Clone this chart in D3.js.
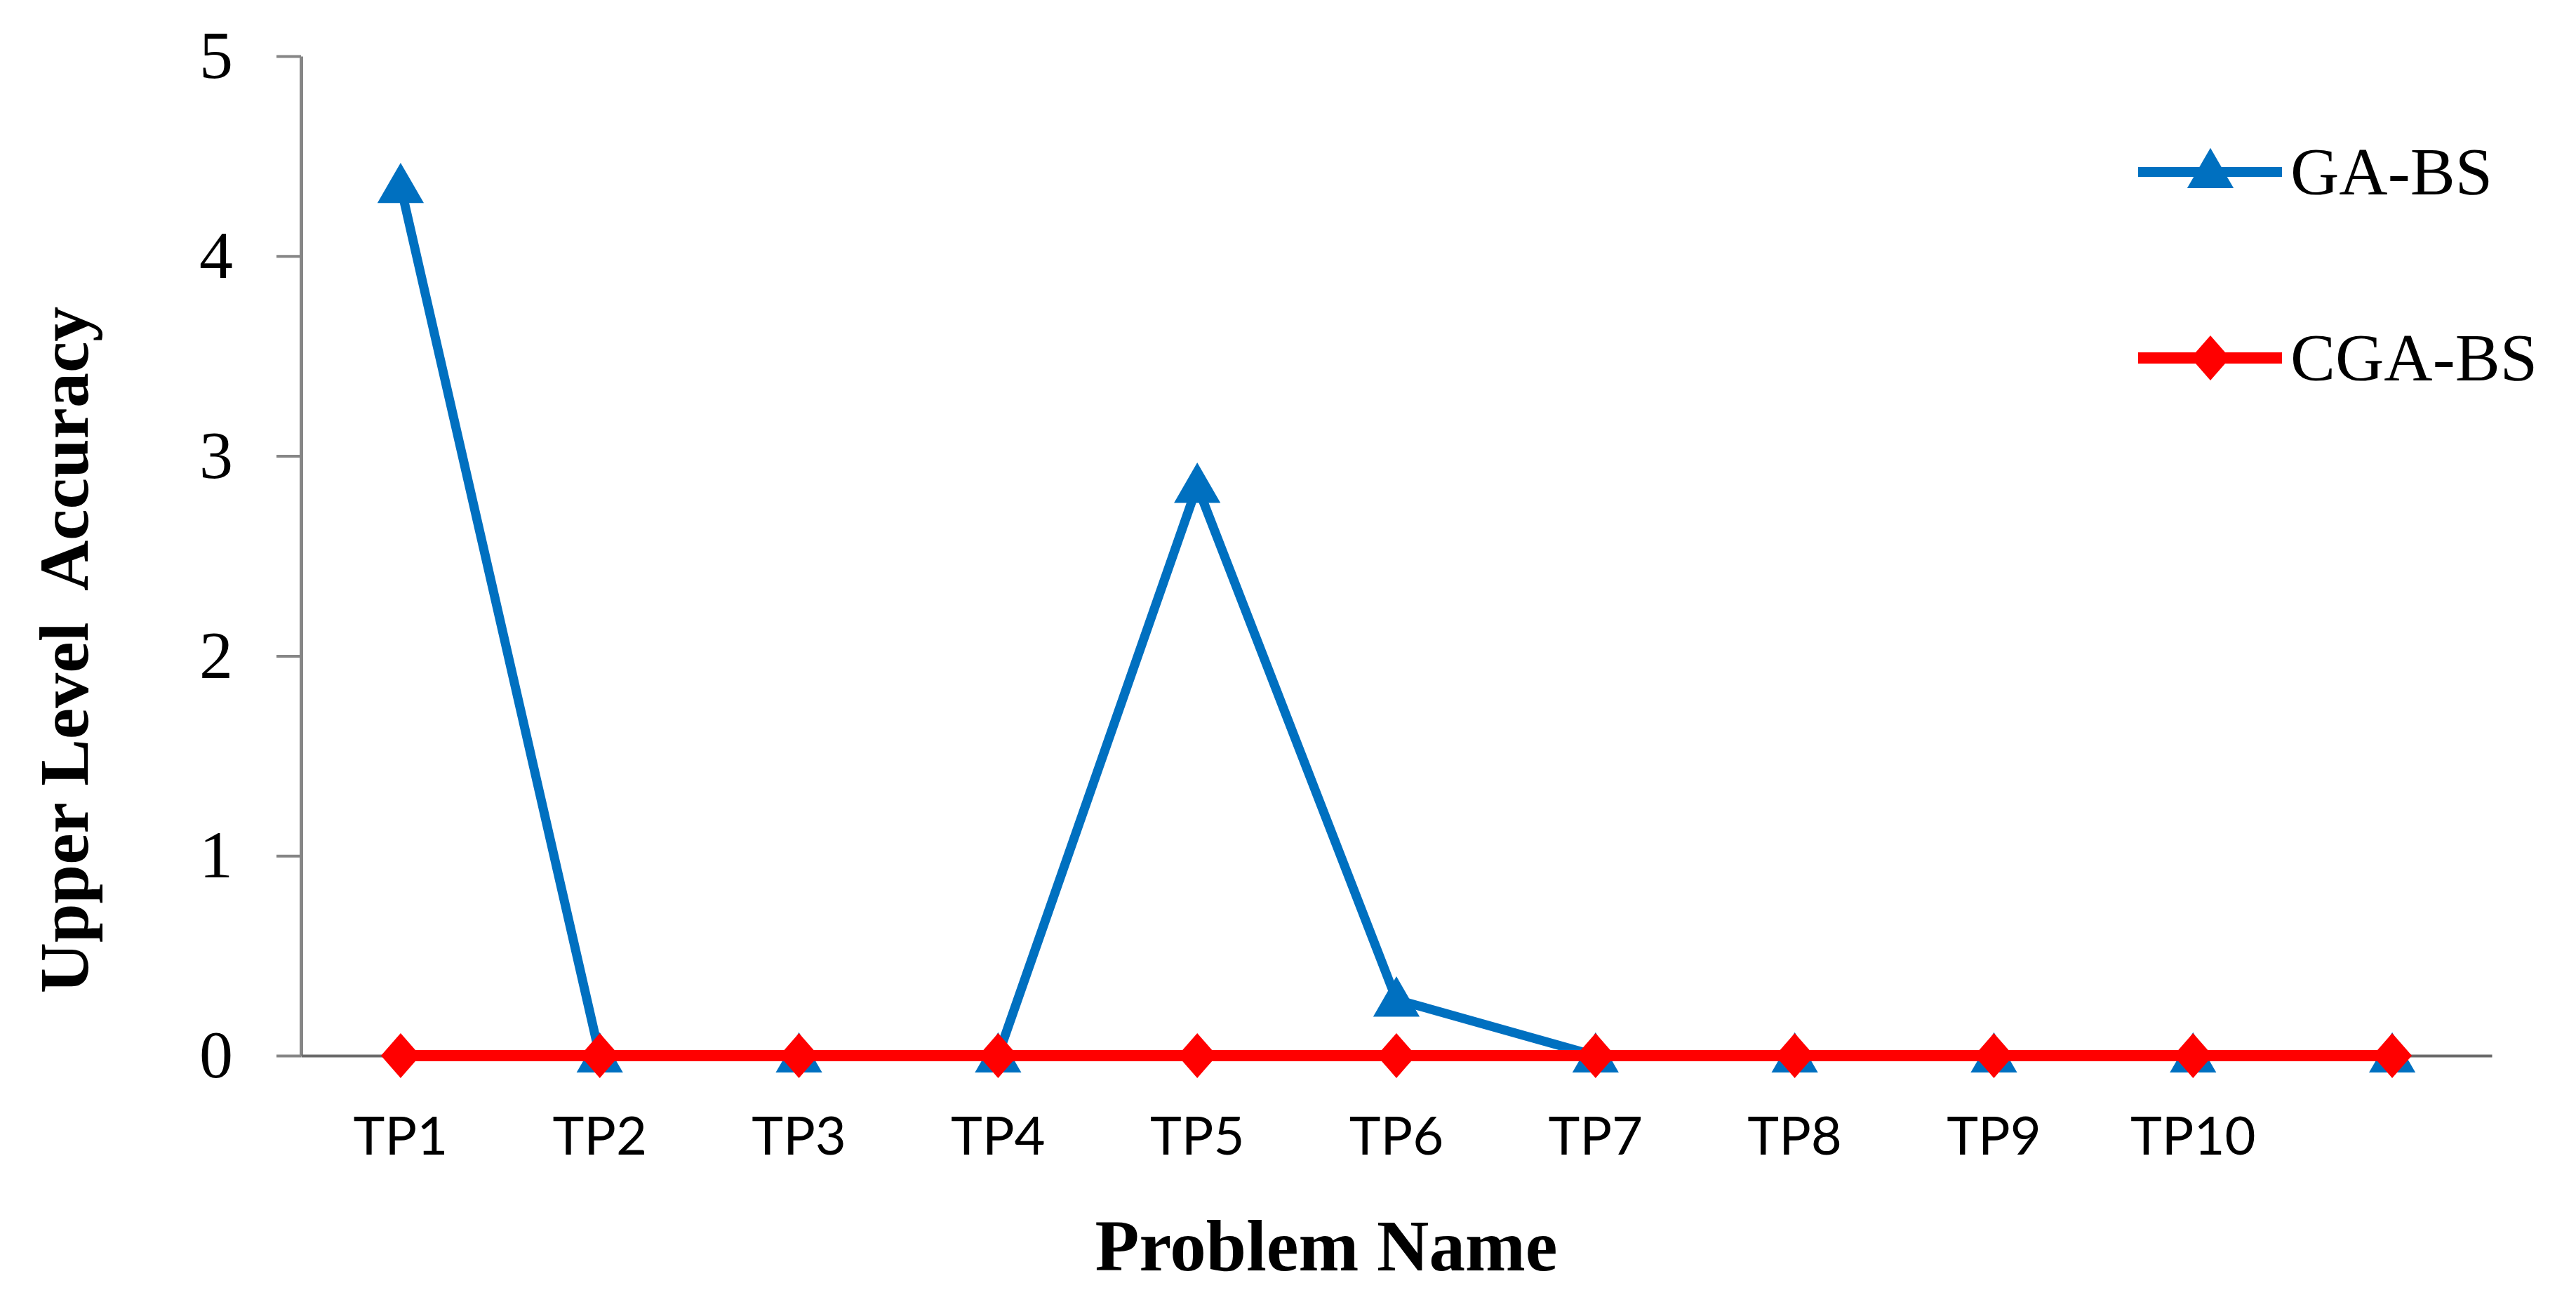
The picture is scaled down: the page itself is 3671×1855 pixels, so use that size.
<!DOCTYPE html>
<html>
<head>
<meta charset="utf-8">
<script src="https://cdn.jsdelivr.net/npm/d3@7"></script>
<style>
  body { margin: 0; background: #fff; }
  svg { display: block; }
</style>
</head>
<body>
<script>
// chart data
const categories = ["TP1", "TP2", "TP3", "TP4", "TP5", "TP6", "TP7", "TP8", "TP9", "TP10", ""];
const gaBS = [4.35, 0, 0, 0, 2.85, 0.28, 0, 0, 0, 0, 0];
const cgaBS = [0, 0, 0, 0, 0, 0, 0, 0, 0, 0, 0];
const yTicks = [0, 1, 2, 3, 4, 5];
const seriesNames = ["GA-BS", "CGA-BS"];

const width = 3671;
const height = 1855;
const plotLeft = 429, plotRight = 3551, plotTop = 80, plotBottom = 1504;

const svg = d3.select("body").append("svg")
    .attr("width", width)
    .attr("height", height);

const x = d3.scaleBand()
    .domain(categories)
    .range([plotLeft, plotRight]);

const y = d3.scaleLinear()
    .domain([0, 5])
    .range([plotBottom, plotTop]);

const serif = "'Liberation Serif', 'Times New Roman', serif";

// y axis
svg.append("g")
    .attr("transform", `translate(${plotLeft},0)`)
    .call(d3.axisLeft(y).tickValues(yTicks).tickFormat(d3.format("d")).tickSize(35).tickSizeOuter(0).tickPadding(62))
    .call(g => g.select(".domain").attr("stroke", "#868686").attr("stroke-width", 5))
    .call(g => g.selectAll(".tick line").attr("stroke", "#868686").attr("stroke-width", 4))
    .call(g => g.selectAll(".tick text")
        .attr("font-family", serif)
        .attr("font-size", 96)
        .attr("fill", "#000"));

// x axis
svg.append("g")
    .attr("transform", `translate(0,${plotBottom})`)
    .call(d3.axisBottom(x).tickSize(0).tickSizeOuter(0).tickPadding(87))
    .call(g => g.select(".domain").attr("stroke", "#6a6a6a").attr("stroke-width", 4))
    .call(g => g.selectAll(".tick text")
        .attr("font-family", "Lato, 'Liberation Sans', sans-serif")
        .attr("font-size", 76)
        .attr("fill", "#000"));

// axis titles
svg.append("text")
    .attr("x", 1890)
    .attr("y", 1810)
    .attr("text-anchor", "middle")
    .attr("font-family", serif)
    .attr("font-weight", "bold")
    .attr("font-size", 103)
    .text("Problem Name");

svg.append("text")
    .attr("transform", "translate(125,926) rotate(-90)")
    .attr("text-anchor", "middle")
    .attr("font-family", serif)
    .attr("font-weight", "bold")
    .attr("font-size", 100)
    .style("white-space", "pre")
    .text("Upper Level  Accuracy");

const line = d3.line()
    .x((d, i) => x(categories[i]) + x.bandwidth() / 2)
    .y(d => y(d));

const triangle = d3.symbol().type(d3.symbolTriangle).size(1900);
const diamond = s => `M0,${-s * 0.57}L${s * 0.5},0L0,${s * 0.57}L${-s * 0.5},0Z`;

// GA-BS series
svg.append("path")
    .datum(gaBS)
    .attr("fill", "none")
    .attr("stroke", "#0070C0")
    .attr("stroke-width", 13)
    .attr("stroke-linejoin", "miter")
    .attr("d", line);

svg.selectAll(".tri")
    .data(gaBS)
    .enter().append("path")
    .attr("class", "tri")
    .attr("transform", (d, i) => `translate(${x(categories[i]) + x.bandwidth() / 2},${y(d) + 5})`)
    .attr("d", triangle)
    .attr("fill", "#0070C0");

// CGA-BS series
svg.append("path")
    .datum(cgaBS)
    .attr("fill", "none")
    .attr("stroke", "#FF0000")
    .attr("stroke-width", 16)
    .attr("d", line);

svg.selectAll(".dia")
    .data(cgaBS)
    .enter().append("path")
    .attr("class", "dia")
    .attr("transform", (d, i) => `translate(${x(categories[i]) + x.bandwidth() / 2},${y(d)})`)
    .attr("d", diamond(56))
    .attr("fill", "#FF0000");

// legend
const legend = svg.append("g");
const legendY = [245, 510];
const colors = ["#0070C0", "#FF0000"];

seriesNames.forEach((name, i) => {
    const g = legend.append("g").attr("transform", `translate(0,${legendY[i]})`);
    g.append("line")
        .attr("x1", 3047).attr("x2", 3252)
        .attr("stroke", colors[i])
        .attr("stroke-width", i === 0 ? 14 : 16);
    if (i === 0) {
        g.append("path")
            .attr("transform", "translate(3150,4)")
            .attr("d", triangle)
            .attr("fill", colors[i]);
    } else {
        g.append("path")
            .attr("transform", "translate(3150,0)")
            .attr("d", diamond(56))
            .attr("fill", colors[i]);
    }
    g.append("text")
        .attr("x", 3264)
        .attr("y", 32)
        .attr("font-family", serif)
        .attr("font-size", 96)
        .text(name);
});
</script>
</body>
</html>
